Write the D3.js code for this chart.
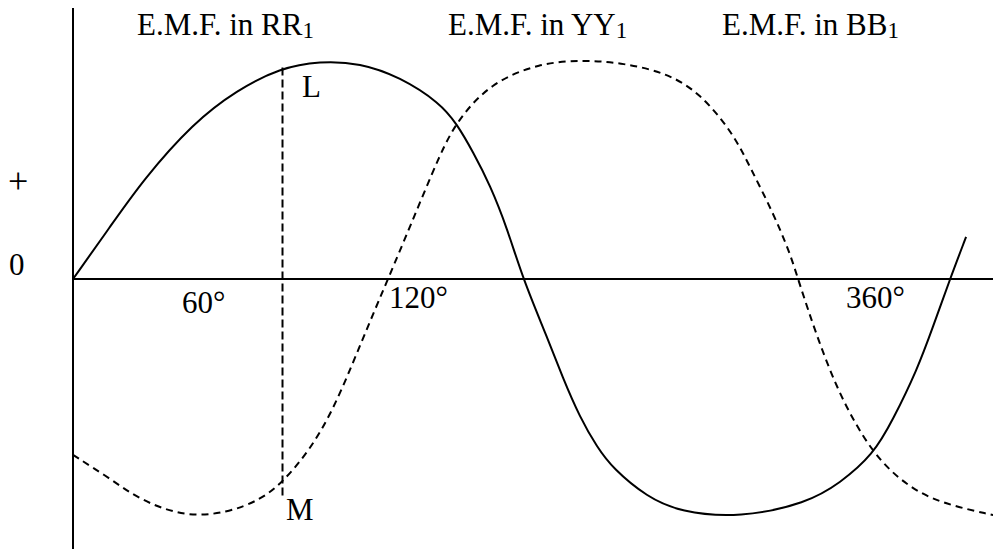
<!DOCTYPE html>
<html lang="en">
<head>
  <meta charset="UTF-8" />
  <title>Three-phase E.M.F.</title>
  <script src="https://d3js.org/d3.v7.min.js"></script>
  <style>
    body { margin: 0; background: #fff; }
    svg { display: block; }
    text { font-family: 'Liberation Serif', 'Times New Roman', serif; fill: #000; }
    .axis { stroke: #000; stroke-width: 2px; }
    .curve { fill: none; stroke: #000; stroke-width: 2px; }
    .dashed { stroke-dasharray: 7, 5; }
  </style>
</head>
<body>
  <svg id="chart" width="993" height="559"></svg>

  <script>
    // E.M.F. in RR1 (solid), angle in degrees, value as % of peak
    const rrAngles = [0, 15.2, 28.7, 49.3, 67.3, 85, 101.4, 117.8, 134.2, 150.7, 157.6, 164.2, 171.2, 178.2, 184.7,
                      194.6, 201.1, 208.1, 215.1, 221.7, 235.6, 249.2, 273.8, 301.3, 314.9, 328.4, 336.6, 346.5, 353, 360, 366.6];
    const rrEmf = [0, 23.9, 45.4, 71.6, 86.7, 96.8, 100, 99.1, 92.7, 80.7, 71.1, 58.3, 43.1, 23.4, 0,
                   -26.6, -45.5, -63.5, -77.1, -87, -100, -106.9, -109.6, -102.8, -93.6, -80.7, -64.5, -41.7, -22, 0, 19.3];

    // E.M.F. in YY1 (dashed)
    const yyAngles = [0, 15.2, 27.5, 46, 63.2, 76.8, 85.8, 97.3, 106.7, 114.9, 121.9, 129.3, 138.3, 150.7, 157.6, 171.2,
                      191.7, 209.4, 225.8, 243.8, 257.4, 270.9, 277.9, 287.4, 294.3, 297.6, 305.4, 314.9, 328.4, 342.4, 355.9, 377.7];
    const yyEmf = [-80.7, -91.5, -101.4, -109.2, -107.3, -101.4, -93.6, -78.4, -60.1, -38.5, -19.5, 0, 23.9, 57.5, 72.5, 89.9,
                   99.1, 100.5, 99.1, 94.5, 85.3, 67, 51.4, 30.3, 11.9, 0, -26.6, -54.1, -80.7, -95, -102.8, -108.3];

    const seriesLabels = ["E.M.F. in RR", "E.M.F. in YY", "E.M.F. in BB"];
    const tickLabels = ["60°", "120°", "360°"];

    // ordinate L-M
    const markerAngle = 86;
    const markerTop = 97;
    const markerBottom = -100;

    const svg = d3.select("#chart");

    const x = d3.scaleLinear().domain([0, 360]).range([73, 950]);
    const y = d3.scaleLinear().domain([0, 100]).range([279, 61]);

    // axes
    svg.append("line").attr("class", "axis")
      .attr("x1", x(0)).attr("x2", x(0))
      .attr("y1", 8).attr("y2", 549);
    svg.append("line").attr("class", "axis")
      .attr("x1", x(0)).attr("x2", 993)
      .attr("y1", y(0)).attr("y2", y(0));

    const line = d3.line()
      .x(d => x(d[0]))
      .y(d => y(d[1]))
      .curve(d3.curveBasis);

    svg.append("path").attr("class", "curve")
      .attr("d", line(d3.zip(rrAngles, rrEmf)));

    svg.append("path").attr("class", "curve dashed")
      .attr("d", line(d3.zip(yyAngles, yyEmf)));

    // vertical dashed line L-M
    svg.append("line")
      .attr("x1", x(markerAngle)).attr("x2", x(markerAngle))
      .attr("y1", y(markerTop)).attr("y2", y(markerBottom))
      .attr("stroke", "#000")
      .attr("stroke-width", 2)
      .attr("stroke-dasharray", "8,4");

    // series titles with subscript 1
    const titleX = [137, 448, 722];
    seriesLabels.forEach((s, i) => {
      const t = svg.append("text")
        .attr("x", titleX[i]).attr("y", 35)
        .attr("font-size", "31px");
      t.append("tspan").text(s);
      t.append("tspan").attr("font-size", "23px").attr("dy", 3).text("1");
    });

    // degree labels
    const tickPos = [[182, 313], [389, 308], [846, 308]];
    tickLabels.forEach((s, i) => {
      svg.append("text")
        .attr("x", tickPos[i][0]).attr("y", tickPos[i][1])
        .attr("font-size", "31px")
        .text(s);
    });

    // sign labels
    svg.append("text").attr("x", 8).attr("y", 193).attr("font-size", "36px").text("+");
    svg.append("text").attr("x", 9).attr("y", 275).attr("font-size", "31px").text("0");

    // L and M
    svg.append("text").attr("x", 302).attr("y", 97).attr("font-size", "31px").text("L");
    svg.append("text").attr("x", 286).attr("y", 520).attr("font-size", "31px").text("M");
  </script>
</body>
</html>
